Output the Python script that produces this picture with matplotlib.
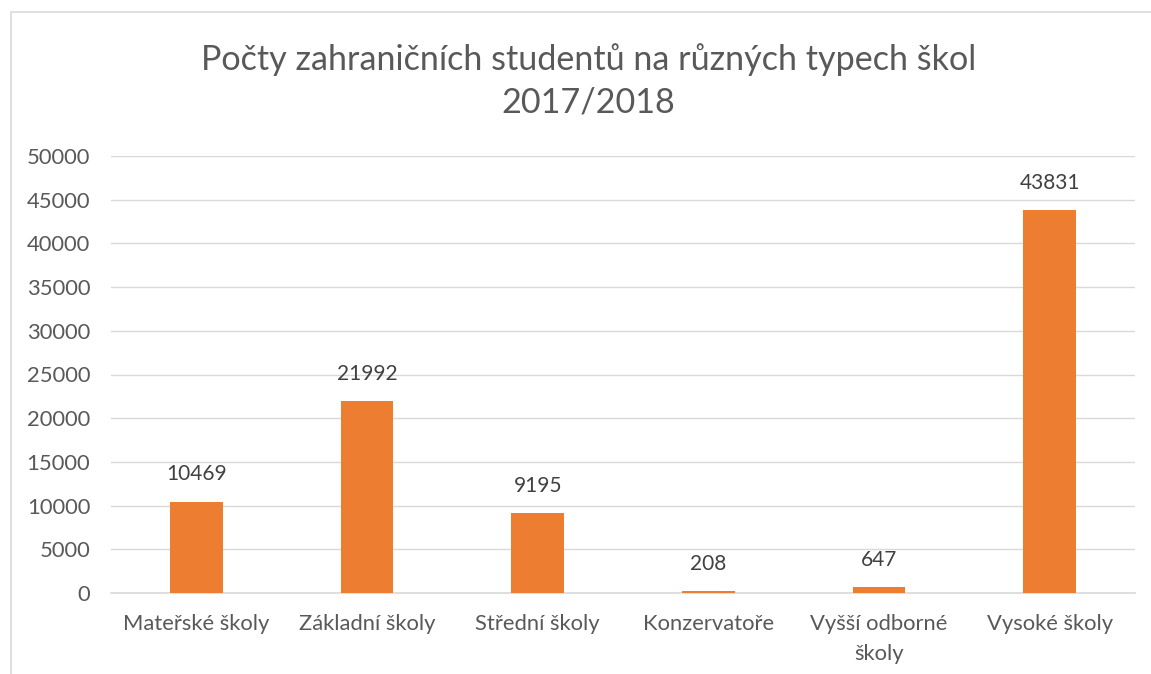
import matplotlib
matplotlib.use('Agg')
import matplotlib.pyplot as plt
from matplotlib.patches import Rectangle

# data
categories = ['Mateřské školy', 'Základní školy', 'Střední školy',
              'Konzervatoře', 'Vyšší odborné\nškoly', 'Vysoké školy']
values = [10469, 21992, 9195, 208, 647, 43831]
yticks = list(range(0, 50001, 5000))

plt.rcParams['font.family'] = ['Lato', 'DejaVu Sans']

fig = plt.figure(figsize=(11.51, 6.74), dpi=100)
# chart frame (cut off at the right and bottom edges)
fig.patches.append(Rectangle((11 / 1151, -0.1), 1.2, 1 - 12 / 674 + 0.1,
                             transform=fig.transFigure, fill=False,
                             edgecolor='#D9D9D9', linewidth=1.2))

ax = fig.add_axes([111 / 1151, 1 - 593 / 674, (1135 - 111) / 1151, (593 - 156) / 674])
x = range(len(categories))
ax.bar(x, values, width=0.31, color='#ED7D31', zorder=3)
for xi, v in zip(x, values):
    ax.annotate(str(v), (xi, v), xytext=(0, 19.5), textcoords='offset points',
                ha='center', va='center', fontsize=15, color='#404040')

ax.set_xlim(-0.5, len(categories) - 0.5)
ax.set_ylim(0, 50000)
ax.set_yticks(yticks)
ax.set_yticklabels([str(t) for t in yticks])
ax.set_xticks(list(x))
ax.set_xticklabels(categories, linespacing=1.65)
ax.tick_params(axis='both', length=0, labelsize=15.8, labelcolor='#595959')
ax.tick_params(axis='x', pad=15)
ax.tick_params(axis='y', pad=15)
ax.grid(axis='y', color='#D9D9D9', linewidth=1, zorder=0)
for s in ['top', 'right', 'left']:
    ax.spines[s].set_visible(False)
ax.spines['bottom'].set_color('#D9D9D9')
ax.spines['bottom'].set_linewidth(1.2)

fig.text(0.511, 1 - 60 / 674, 'Počty zahraničních studentů na různých typech škol',
         ha='center', va='center', fontsize=24.6, color='#595959')
fig.text(0.511, 1 - 102 / 674, '2017/2018',
         ha='center', va='center', fontsize=24.6, color='#595959')

fig.savefig('out.png', dpi=100)
